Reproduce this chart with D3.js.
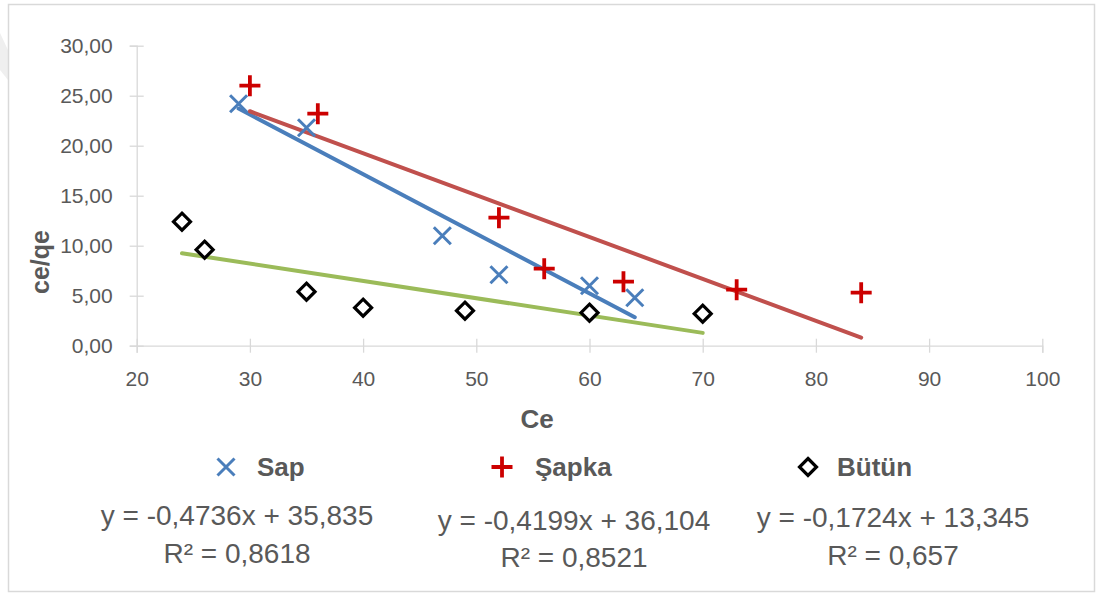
<!DOCTYPE html>
<html>
<head>
<meta charset="utf-8">
<script src="https://cdn.jsdelivr.net/npm/d3@7"></script>
<style>
  html, body { margin: 0; padding: 0; background: #ffffff; }
  svg { display: block; font-family: "Liberation Sans", Arial, sans-serif; }
</style>
</head>
<body>
<svg id="chart" width="1096" height="594"></svg>
<script>
// Ce values and Ce/qe values per sample part
const sapX = [29, 35, 47, 52, 60, 64];
const sapY = [24.2, 21.8, 11.0, 7.1, 6.0, 4.8];
const sapkaX = [30, 36, 52, 56, 63, 73, 84];
const sapkaY = [26.0, 23.2, 12.8, 7.7, 6.4, 5.6, 5.3];
const butunX = [24, 26, 35, 40, 49, 60, 70];
const butunY = [12.4, 9.6, 5.4, 3.8, 3.5, 3.3, 3.2];

const seriesNames = ["Sap", "Şapka", "Bütün"];
const equations = ["y = -0,4736x + 35,835", "y = -0,4199x + 36,104", "y = -0,1724x + 13,345"];
const rSquared = ["R² = 0,8618", "R² = 0,8521", "R² = 0,657"];

const xTicks = [20, 30, 40, 50, 60, 70, 80, 90, 100];
const yTicks = [0, 5, 10, 15, 20, 25, 30];

const svg = d3.select("#chart");
const textColor = "#595959";
const axisColor = "#d9d9d9";

// outer chart frame
svg.append("path")
  .attr("d", "M0,33 L8,50 L8,80 L0,70 Z")
  .attr("fill", "#efefef");
svg.append("rect")
  .attr("x", 8.5).attr("y", 4.5)
  .attr("width", 1086).attr("height", 587)
  .attr("fill", "#ffffff")
  .attr("stroke", axisColor).attr("stroke-width", 1.5);

const x = d3.scaleLinear().domain([20, 100]).range([136.7, 1042.3]);
const y = d3.scaleLinear().domain([0, 30]).range([345.7, 45.7]);

const commaLocale = d3.formatLocale({ decimal: ",", thousands: ".", grouping: [3], currency: ["", ""] });
const fmt2 = commaLocale.format(".2f");

// x axis
const gx = svg.append("g")
  .attr("transform", `translate(0,${y(0)})`)
  .call(d3.axisBottom(x).tickValues(xTicks).tickFormat(d3.format("d")).tickSize(7).tickPadding(18));
gx.select(".domain").attr("stroke", axisColor).attr("stroke-width", 1.3);
gx.selectAll(".tick line").attr("stroke", axisColor).attr("stroke-width", 1.3).attr("y1", -7).attr("y2", 7);
gx.selectAll(".tick text")
  .attr("fill", textColor).attr("font-size", 21).attr("font-family", "Liberation Sans, Arial, sans-serif");

// y axis
const gy = svg.append("g")
  .attr("transform", `translate(${x(20)},0)`)
  .call(d3.axisLeft(y).tickValues(yTicks).tickFormat(fmt2).tickSize(7).tickPadding(17));
gy.select(".domain").attr("stroke", axisColor).attr("stroke-width", 1.3);
gy.selectAll(".tick line").attr("stroke", axisColor).attr("stroke-width", 1.3).attr("x1", -7).attr("x2", 7);
gy.selectAll(".tick text")
  .attr("fill", textColor).attr("font-size", 21).attr("font-family", "Liberation Sans, Arial, sans-serif");

// axis titles
svg.append("text")
  .attr("x", 537).attr("y", 428)
  .attr("text-anchor", "middle")
  .attr("fill", textColor).attr("font-size", 26).attr("font-weight", "bold")
  .text("Ce");
svg.append("text")
  .attr("transform", "translate(49,262) rotate(-90)")
  .attr("text-anchor", "middle")
  .attr("fill", textColor).attr("font-size", 25).attr("font-weight", "bold")
  .text("ce/qe");

// least-squares fit for each series' trend line
function linearFit(xs, ys) {
  const mx = d3.mean(xs), my = d3.mean(ys);
  let sxy = 0, sxx = 0;
  xs.forEach((v, i) => { sxy += (v - mx) * (ys[i] - my); sxx += (v - mx) * (v - mx); });
  const slope = sxy / sxx;
  return { slope, intercept: my - slope * mx };
}

const series = [
  { xs: sapX, ys: sapY, marker: "cross", color: "#4a7ebb", trend: "#4a7ebb" },
  { xs: sapkaX, ys: sapkaY, marker: "plus", color: "#cc0000", trend: "#c0504d" },
  { xs: butunX, ys: butunY, marker: "diamond", color: "#000000", trend: "#9bbb59" }
];

function drawMarker(g, kind, color) {
  if (kind === "cross") {
    g.append("path").attr("d", "M-8.5,-8.5L8.5,8.5M-8.5,8.5L8.5,-8.5")
      .attr("stroke", color).attr("stroke-width", 3).attr("fill", "none");
  } else if (kind === "plus") {
    g.append("path").attr("d", "M-10.5,0L10.5,0M0,-10.5L0,10.5")
      .attr("stroke", color).attr("stroke-width", 3.8).attr("fill", "none");
  } else {
    g.append("path").attr("d", "M0,-8.5L8.5,0L0,8.5L-8.5,0Z")
      .attr("stroke", color).attr("stroke-width", 3.2).attr("fill", "#ffffff");
  }
}

// trend lines (drawn under the markers)
const line = d3.line().x(d => x(d[0])).y(d => y(d[1]));
series.forEach(s => {
  const fit = linearFit(s.xs, s.ys);
  const x0 = d3.min(s.xs), x1 = d3.max(s.xs);
  svg.append("path")
    .datum([[x0, fit.intercept + fit.slope * x0], [x1, fit.intercept + fit.slope * x1]])
    .attr("d", line)
    .attr("stroke", s.trend).attr("stroke-width", 4).attr("fill", "none")
    .attr("stroke-linecap", "round");
});

// markers
series.forEach(s => {
  s.xs.forEach((v, i) => {
    const g = svg.append("g").attr("transform", `translate(${x(v)},${y(s.ys[i])})`);
    drawMarker(g, s.marker, s.color);
  });
});

// legend
const legendPos = [
  { mx: 226, tx: 257, size: 26 },
  { mx: 502, tx: 535, size: 26 },
  { mx: 808, tx: 837, size: 26 }
];
seriesNames.forEach((name, i) => {
  const g = svg.append("g").attr("transform", `translate(${legendPos[i].mx},467)`);
  drawMarker(g, series[i].marker, series[i].color);
  svg.append("text")
    .attr("x", legendPos[i].tx).attr("y", 476)
    .attr("fill", textColor).attr("font-size", legendPos[i].size).attr("font-weight", "bold")
    .text(name);
});

// trend line equations
const eqPos = [
  { cx: 237, y1: 525, y2: 563 },
  { cx: 574, y1: 530, y2: 567 },
  { cx: 893, y1: 527, y2: 565 }
];
equations.forEach((eq, i) => {
  svg.append("text")
    .attr("x", eqPos[i].cx).attr("y", eqPos[i].y1)
    .attr("text-anchor", "middle")
    .attr("fill", textColor).attr("font-size", 28)
    .text(eq);
  svg.append("text")
    .attr("x", eqPos[i].cx).attr("y", eqPos[i].y2)
    .attr("text-anchor", "middle")
    .attr("fill", textColor).attr("font-size", 28)
    .text(rSquared[i]);
});
</script>
</body>
</html>
